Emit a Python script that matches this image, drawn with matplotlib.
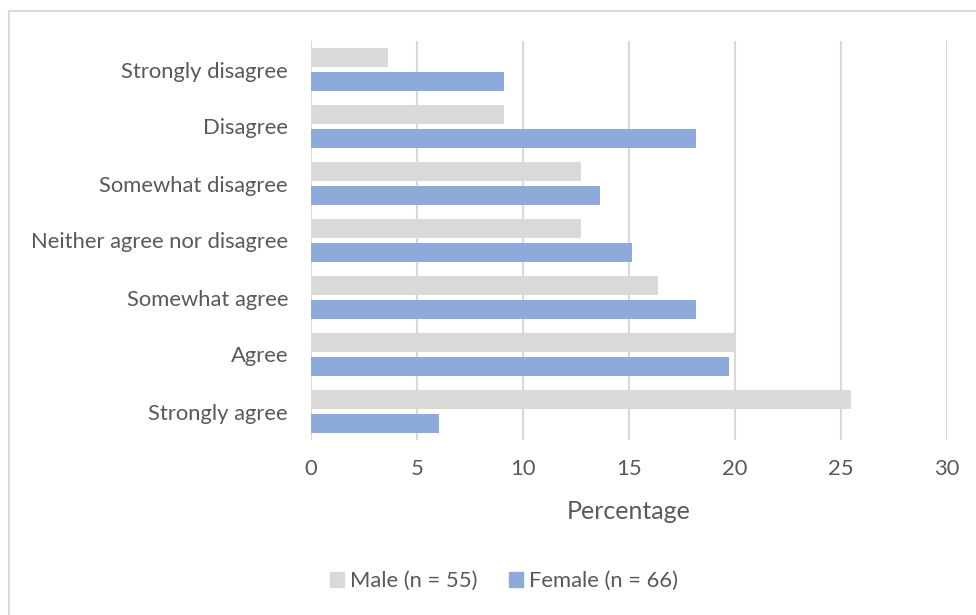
import numpy as np
import matplotlib.pyplot as plt
from matplotlib.lines import Line2D
from matplotlib.patches import Patch

categories = ['Strongly disagree', 'Disagree', 'Somewhat disagree',
              'Neither agree nor disagree', 'Somewhat agree', 'Agree', 'Strongly agree']
male = [3.64, 9.09, 12.73, 12.73, 16.36, 20.00, 25.45]
female = [9.09, 18.18, 13.64, 15.15, 18.18, 19.70, 6.06]
male_label = 'Male (n = 55)'
female_label = 'Female (n = 66)'

grey = '#d9d9d9'
blue = '#8eaadb'
text_c = '#595959'

plt.rcParams['font.family'] = ['Lato', 'DejaVu Sans']

fig = plt.figure(figsize=(9.76, 6.15), dpi=100)
ax = fig.add_axes([311 / 976, 1 - 440 / 615, 636 / 976, 399 / 615])

y = np.arange(len(categories))
h = 0.335
ax.barh(y - 0.21, male, height=h, color=grey, zorder=2)
ax.barh(y + 0.21, female, height=h, color=blue, zorder=2)

ax.set_xlim(0, 30)
ax.set_ylim(len(categories) - 0.5, -0.5)
ax.set_xticks(range(0, 31, 5))
ax.set_yticks(y)
ax.set_yticklabels(categories)
ax.grid(axis='x', color=grey, linewidth=1.5, zorder=0)
for s in ax.spines.values():
    s.set_visible(False)
ax.tick_params(length=0, labelsize=15.8, colors=text_c)
ax.tick_params(axis='x', pad=14)
ax.tick_params(axis='y', pad=16.5)
ax.set_xlabel('Percentage', fontsize=18, color=text_c, labelpad=15)

handles = [Patch(color=grey, label=male_label), Patch(color=blue, label=female_label)]
fig.legend(handles=handles, loc='center', bbox_to_anchor=(504 / 976, 1 - 581 / 615),
           ncol=2, frameon=False, fontsize=15.8, labelcolor=text_c,
           handlelength=0.65, handleheight=0.65, handletextpad=0.3, columnspacing=1.4)

# outer chart border (top and left edges visible)
fig.add_artist(Line2D([8.5 / 976, 1], [1 - 10.5 / 615] * 2, color=grey, lw=1.5))
fig.add_artist(Line2D([8.5 / 976] * 2, [0, 1 - 10.5 / 615], color=grey, lw=1.5))

fig.savefig('out.png', dpi=100)
